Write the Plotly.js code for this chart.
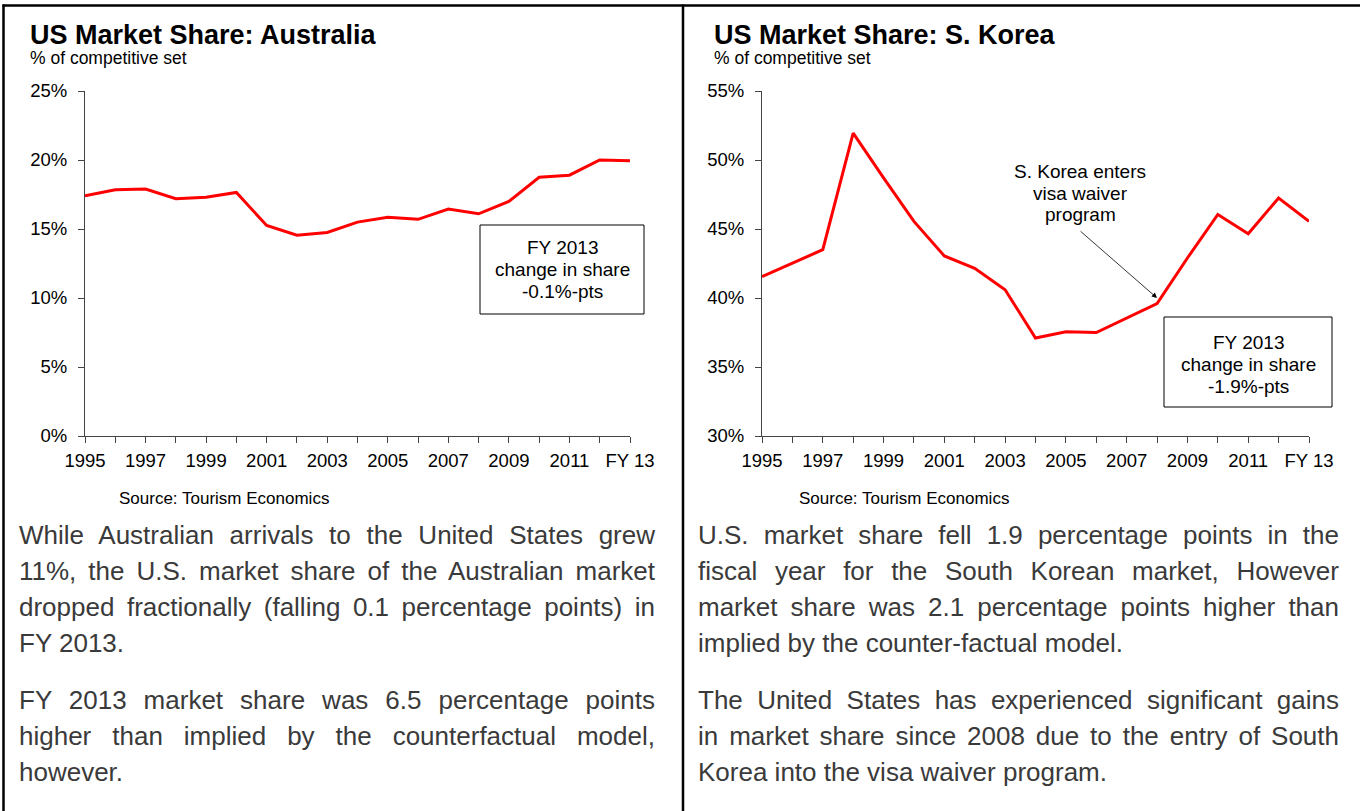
<!DOCTYPE html>
<html>
<head>
<meta charset="utf-8">
<script src="https://cdn.plot.ly/plotly-3.0.1.min.js"></script>
<style>
  html, body { margin: 0; padding: 0; background: #fff; }
  #wrap { position: relative; width: 1360px; height: 811px; overflow: hidden; }
  #chart { position: absolute; left: 0; top: 0; width: 1360px; height: 811px; }
  .para { position: absolute; font-family: Arial, "Liberation Sans", sans-serif; font-size: 26px;
          line-height: 36px; color: #3a3a3a; pointer-events: none; }
  .para .ln { white-space: nowrap; text-align: justify; text-align-last: justify; }
  .para .ln.last { text-align: left; text-align-last: left; margin-bottom: 21px; }
</style>
</head>
<body>
<div id="wrap">
  <div id="chart"></div>
  <div class="para" id="pLeft" style="left:19px; top:517px; width:636px;"></div>
  <div class="para" id="pRight" style="left:698px; top:517px; width:641px;"></div>
</div>
<script>
// ---- data ----
const years = [1995,1996,1997,1998,1999,2000,2001,2002,2003,2004,2005,2006,2007,2008,2009,2010,2011,2012,2013];
const tickLabels = ["1995","","1997","","1999","","2001","","2003","","2005","","2007","","2009","","2011","","FY 13"];
const australiaShare = [17.4,17.85,17.9,17.2,17.3,17.65,15.25,14.55,14.75,15.5,15.85,15.7,16.45,16.1,17.0,18.75,18.9,20.0,19.95];
const koreaShare = [41.55,42.55,43.5,51.95,48.7,45.55,43.05,42.15,40.6,37.1,37.55,37.5,38.55,39.6,42.9,46.05,44.65,47.25,45.55];
const titles = ["US Market Share: Australia", "US Market Share: S. Korea"];
const subtitle = "% of competitive set";
const sourceText = "Source: Tourism Economics";
const boxLinesAus = ["FY 2013", "change in share", "-0.1%-pts"];
const boxLinesKor = ["FY 2013", "change in share", "-1.9%-pts"];
const koreaNoteLines = ["S. Korea enters", "visa waiver", "program"];
const noteYear = 2008;
const noteValue = 40.0;
const leftParas = [
  ["While Australian arrivals to the United States grew",
   "11%, the U.S. market share of the Australian market",
   "dropped fractionally (falling 0.1 percentage points) in",
   "FY 2013."],
  ["FY 2013 market share was 6.5 percentage points",
   "higher than implied by the counterfactual model,",
   "however."]
];
const rightParas = [
  ["U.S. market share fell 1.9 percentage points in the",
   "fiscal year for the South Korean market, However",
   "market share was 2.1 percentage points higher than",
   "implied by the counter-factual model."],
  ["The United States has experienced significant gains",
   "in market share since 2008 due to the entry of South",
   "Korea into the visa waiver program."]
];

function renderParas(id, paras) {
  const el = document.getElementById(id);
  paras.forEach(lines => {
    lines.forEach((t, i) => {
      const d = document.createElement('div');
      d.className = 'ln' + (i === lines.length - 1 ? ' last' : '');
      d.textContent = t;
      el.appendChild(d);
    });
  });
}
renderParas('pLeft', leftParas);
renderParas('pRight', rightParas);

// ---- layout helpers ----
const W = 1360, H = 811;
const px = x => x / W;
const py = y => 1 - y / H;
const FONT = 'Arial, "Liberation Sans", sans-serif';

function xAxis(x0, x1, anchor) {
  return {
    domain: [px(x0), px(x1)], anchor: anchor, range: [1995, 2013],
    tickmode: 'array', tickvals: years, ticktext: tickLabels,
    ticks: 'outside', ticklen: 6, tickwidth: 1, tickcolor: '#444',
    ticklabelstandoff: 2,
    showline: true, linecolor: '#444', linewidth: 1,
    showgrid: false, zeroline: false, fixedrange: true,
    tickfont: { family: FONT, size: 18.5, color: '#000' }
  };
}
function yAxis(r, anchor) {
  return {
    domain: [py(436), py(91)], anchor: anchor, range: r, dtick: 5, tick0: 0,
    ticksuffix: '%', ticks: 'outside', ticklen: 6, tickwidth: 1, tickcolor: '#444',
    ticklabelstandoff: 7,
    showline: true, linecolor: '#444', linewidth: 1,
    showgrid: false, zeroline: false, fixedrange: true,
    tickfont: { family: FONT, size: 18.5, color: '#000' }
  };
}

const traces = [
  { x: years, y: australiaShare, xaxis: 'x', yaxis: 'y', type: 'scatter', mode: 'lines',
    line: { color: '#FF0000', width: 3 }, hoverinfo: 'skip' },
  { x: years, y: koreaShare, xaxis: 'x2', yaxis: 'y2', type: 'scatter', mode: 'lines',
    line: { color: '#FF0000', width: 3 }, hoverinfo: 'skip' }
];

const ann = [];
function paperText(text, x, y, size, opts) {
  ann.push(Object.assign({ xref: 'paper', yref: 'paper', x: px(x), y: py(y), text: text,
    showarrow: false, xanchor: 'left', yanchor: 'middle',
    font: { family: FONT, size: size, color: '#000' } }, opts || {}));
}
function centeredLines(lines, cx, y0, step, size) {
  lines.forEach((t, i) => paperText(t, cx, y0 + i * step, size, { xanchor: 'center', align: 'center' }));
}
paperText('<b>' + titles[0] + '</b>', 28, 35, 27);
paperText('<b>' + titles[1] + '</b>', 712, 35, 27);
paperText(subtitle, 28, 58, 17.5);
paperText(subtitle, 712, 58, 17.5);
paperText(sourceText, 117, 498, 17);
paperText(sourceText, 797, 498, 17);
centeredLines(boxLinesAus, 562, 247, 22, 19);
centeredLines(boxLinesKor, 1248, 342, 22, 19);
centeredLines(koreaNoteLines, 1080, 171, 22, 19);
// arrow
ann.push({ xref: 'x2', yref: 'y2', x: noteYear, y: noteValue,
  ax: -78, ay: -68, axref: 'pixel', ayref: 'pixel', text: '', showarrow: true,
  arrowhead: 2, arrowsize: 1.3, arrowwidth: 0.8, arrowcolor: '#000', standoff: 0, startstandoff: 0 });

const shapes = [
  // frame
  { type: 'line', xref: 'paper', yref: 'paper', x0: px(2.5), x1: 1, y0: py(5.5), y1: py(5.5), line: { color: '#000', width: 2.5 } },
  { type: 'line', xref: 'paper', yref: 'paper', x0: px(3.5), x1: px(3.5), y0: 0, y1: py(4.5), line: { color: '#000', width: 2.5 } },
  { type: 'line', xref: 'paper', yref: 'paper', x0: px(683), x1: px(683), y0: 0, y1: py(4.5), line: { color: '#000', width: 2.5 } },
  // annotation boxes
  { type: 'rect', xref: 'paper', yref: 'paper', x0: px(480), x1: px(644), y0: py(314), y1: py(225),
    line: { color: '#000', width: 1 }, fillcolor: '#fff', layer: 'below' },
  { type: 'rect', xref: 'paper', yref: 'paper', x0: px(1164), x1: px(1332), y0: py(407), y1: py(317),
    line: { color: '#000', width: 1 }, fillcolor: '#fff', layer: 'below' }
];

const layout = {
  width: W, height: H, margin: { l: 0, r: 0, t: 0, b: 0 },
  paper_bgcolor: '#fff', plot_bgcolor: 'rgba(0,0,0,0)', showlegend: false,
  font: { family: FONT },
  xaxis: xAxis(85, 630, 'y'), yaxis: yAxis([0, 25], 'x'),
  xaxis2: xAxis(762, 1309, 'y2'), yaxis2: yAxis([30, 55], 'x2'),
  annotations: ann, shapes: shapes
};

Plotly.newPlot('chart', traces, layout, { displayModeBar: false, staticPlot: true });
</script>
</body>
</html>
